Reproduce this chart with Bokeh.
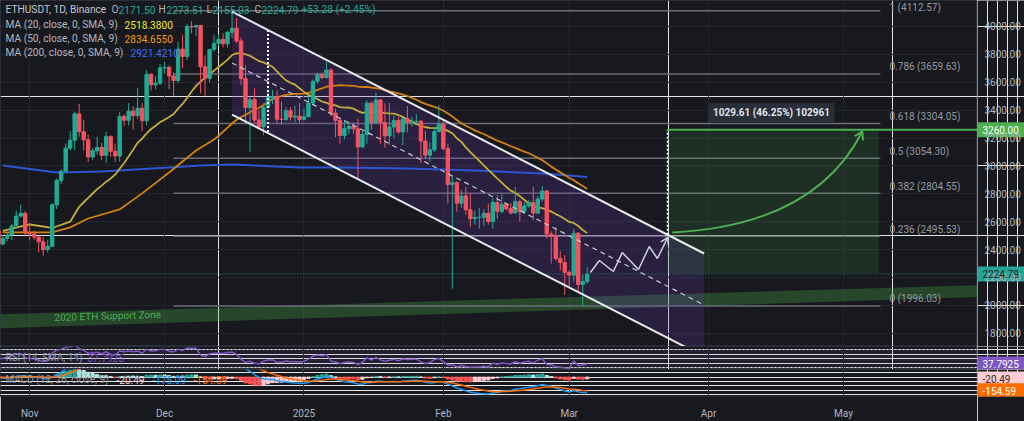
import numpy as np
import pandas as pd
from bokeh.plotting import figure
from bokeh.layouts import column, row
from bokeh.models import (Range1d, FixedTicker, Grid, ColumnDataSource, BoxAnnotation, Span, Label)
from bokeh.embed import file_html
from bokeh.resources import INLINE
from bokeh.core.properties import value

# ---------------- data (ETHUSDT daily) ----------------
START = "2024-10-24"
first_open = 2525.0
closes = [2535, 2440, 2480, 2505, 2570, 2640, 2660, 2518,
          2512, 2490, 2456, 2400, 2423, 2721, 2896, 2962, 3127, 3184, 3373, 3245, 3187, 3064, 3108, 3133, 3076,
          3210, 3105, 3071, 3355, 3328, 3393, 3361, 3413, 3324, 3657, 3581, 3593, 3703,
          3707, 3645, 3613, 3837, 3785, 4000, 3996, 4007, 3711, 3627, 3835, 3879, 3906, 3876, 3958, 3987, 3896,
          3626, 3418, 3475, 3329, 3281, 3420, 3491, 3497, 3335, 3333, 3396, 3350, 3357, 3332,
          3353, 3451, 3607, 3657, 3634, 3687, 3379, 3327, 3218, 3267, 3283, 3266, 3136, 3226, 3450, 3308, 3473,
          3312, 3215, 3279, 3325, 3244, 3338, 3310, 3318, 3320, 3178, 3077, 3116, 3247, 3299,
          3125, 2867, 2880, 2733, 2785, 2686, 2621, 2631, 2631, 2660, 2601, 2738, 2674, 2725, 2693, 2663, 2744,
          2672, 2714, 2738, 2662, 2763, 2820, 2512, 2496, 2336, 2307, 2237,
          2217, 2517, 2150, 2171.50, 2224.79]
highs = [2560, 2565, 2505, 2520, 2585, 2680, 2722, 2675,
         2590, 2535, 2495, 2490, 2470, 2730, 2910, 2975, 3160, 3250, 3390, 3445, 3330, 3225, 3130, 3210, 3165,
         3245, 3220, 3160, 3385, 3370, 3450, 3430, 3560, 3450, 3688, 3665, 3645, 3730,
         3745, 3720, 3670, 3890, 3940, 4017, 4040, 4010, 4010, 3790, 3840, 3940, 3945, 3950, 3970, 4107, 4060,
         3920, 3720, 3495, 3555, 3400, 3450, 3540, 3545, 3540, 3460, 3420, 3420, 3430, 3450,
         3410, 3500, 3620, 3670, 3670, 3745, 3700, 3410, 3350, 3320, 3320, 3310, 3340, 3250, 3470, 3460, 3525,
         3480, 3450, 3450, 3360, 3350, 3345, 3430, 3350, 3370, 3330, 3250, 3170, 3280, 3435,
         3330, 3160, 2925, 2890, 2830, 2850, 2800, 2680, 2700, 2690, 2730, 2770, 2790, 2795, 2730, 2735, 2850,
         2760, 2740, 2755, 2850, 2785, 2855, 2830, 2530, 2560, 2390, 2360,
         2250, 2550, 2525, 2220, 2273.51]
lows = [2500, 2380, 2430, 2460, 2470, 2560, 2630, 2500,
        2465, 2470, 2380, 2357, 2380, 2420, 2690, 2870, 2950, 3110, 3115, 3210, 3110, 3030, 3045, 3080, 3040,
        3020, 3065, 3030, 3030, 3285, 3290, 3260, 3335, 3250, 3290, 3540, 3550, 3580,
        3660, 3550, 3500, 3595, 3700, 3760, 3950, 3930, 3520, 3500, 3600, 3820, 3860, 3850, 3850, 3915, 3880,
        3580, 3300, 3100, 3310, 3265, 3220, 3405, 3445, 3300, 3295, 3320, 3325, 3310, 3310,
        3325, 3350, 3440, 3590, 3620, 3625, 3355, 3206, 3160, 3190, 3230, 3230, 2910, 3130, 3160, 3260, 3300,
        3160, 3130, 3150, 3200, 3230, 3150, 3240, 3280, 3300, 3020, 3050, 3030, 3100, 3240,
        3110, 2730, 2120, 2670, 2700, 2650, 2560, 2580, 2550, 2570, 2580, 2550, 2620, 2660, 2680, 2650, 2660,
        2600, 2655, 2700, 2610, 2655, 2745, 2480, 2300, 2320, 2250, 2075,
        2140, 2170, 2100, 1994, 2155.03]

# moving averages: early parts (before enough history in view)
ma20_early_day = [2, 8, 13, 17]
ma20_early_val = [2535, 2580, 2555, 2600]
ma50_early_day = [2, 13, 17, 21, 28, 33, 39, 45]
ma50_early_val = [2523, 2523, 2559, 2623, 2688, 2803, 2953, 3110]
ma200_day = [2, 14, 24, 39, 46, 53, 68, 77, 92, 107, 122, 132]
ma200_val = [3003, 2953, 2960, 2989, 3003, 3011, 2989, 2989, 2982, 2967, 2946, 2921]

# RSI warm-up averages (estimated)
rsi_seed_gain, rsi_seed_loss = 30.0, 25.0

# drawings
fib_ratio = ["1", "0.786", "0.618", "0.5", "0.382", "0.236", "0"]
fib_price = [4112.57, 3659.63, 3304.05, 3054.30, 2804.55, 2495.53, 1996.03]
fib_day = [40, 197.2]
channel_day = [53, 158]
channel_upper = [4107, 2372]
channel_lower = [3368, 1633]
channel_mid = [3737.5, 2002.5]
channel_marker_day = 61
target_price = 3260.0
range_low = 2230.39
range_day = [149.85, 196.8]
curve_start = (150.9, 2523)
curve_ctrl = (182.5, 2573)
curve_end = (193.2, 3247)
zigzag_day = [132.7, 134.7, 137.8, 139.8, 143.4, 145.8, 147.6, 149.9]
zigzag_price = [2236, 2322, 2243, 2379, 2257, 2422, 2336, 2487]
support_day = [0, 230]
support_top = [1935, 2156]
support_bot = [1835, 2071]

month_starts = ["2024-11-01", "2024-12-01", "2025-01-01", "2025-02-01", "2025-03-01", "2025-04-01", "2025-05-01"]
month_labels = ["Nov", "Dec", "2025", "Feb", "Mar", "Apr", "May"]
price_ticks = [1800, 2000, 2200, 2400, 2600, 2800, 3000, 3200, 3400, 3600, 3800, 4000]

# ---------------- derived ----------------
base = pd.Timestamp(START)
ticks = [(pd.Timestamp(m) - base).days for m in month_starts]
n = len(closes)
days = np.arange(n)
c = np.array(closes, dtype=float)
opens = np.concatenate([[first_open], c[:-1]])
UP, DN = "#22ab94", "#f7525f"
colors = [UP if cl >= op else DN for op, cl in zip(opens, c)]

def sma(arr, w):
    out = np.full(len(arr), np.nan)
    for i in range(w - 1, len(arr)):
        out[i] = arr[i - w + 1:i + 1].mean()
    return out

s20 = sma(c, 20)
s50 = sma(c, 50)
ma20_d = list(ma20_early_day) + list(days[19:])
ma20_v = list(ma20_early_val) + list(s20[19:])
ma50_d = list(ma50_early_day) + list(days[49:])
ma50_v = list(ma50_early_val) + list(s50[49:])

ag, al = rsi_seed_gain, rsi_seed_loss
rsi = [np.nan]
for i in range(1, n):
    d = c[i] - c[i - 1]
    ag = (ag * 13 + max(d, 0)) / 14
    al = (al * 13 + max(-d, 0)) / 14
    rsi.append(100 - 100 / (1 + ag / al))

def ema(arr, span):
    a = 2 / (span + 1)
    out = np.zeros(len(arr))
    out[0] = arr[0]
    for i in range(1, len(arr)):
        out[i] = a * arr[i] + (1 - a) * out[i - 1]
    return out

macd = ema(c, 12) - ema(c, 26)
signal = ema(macd, 9)
hist = macd - signal
hcol = []
for i, h in enumerate(hist):
    prev = hist[i - 1] if i > 0 else 0
    if h >= 0:
        hcol.append("#26a69a" if h > prev else "#b2dfdb")
    else:
        hcol.append("#ff5252" if h < prev else "#ffcdd2")

# ---------------- helpers ----------------
BG = "#18191e"
GRID = "#24262c"
SEP = "#2a2e39"
TXT = "#b2b5be"
FONT = "Roboto"
D0, PXD = 1.5, 4.496
PTOP, PPY = 4186.0, 7.17
FW, SW = 977, 47

def X(px):
    return D0 + px / PXD

def Y(py):
    return PTOP - py * PPY

xr = Range1d(X(0), X(FW))

def make_fig(h, yr, bottom=0):
    f = figure(width=FW, height=h, x_range=xr, y_range=yr, output_backend="svg",
               toolbar_location=None, x_axis_location="below" if bottom else None,
               y_axis_location=None, min_border_left=0, min_border_right=0,
               min_border_top=0, min_border_bottom=bottom,
               background_fill_color=BG, border_fill_color=BG, outline_line_color=SEP)
    f.add_layout(Grid(dimension=0, ticker=FixedTicker(ticks=ticks), grid_line_color=GRID))
    return f

def make_scale(h, yr, bottom=0):
    s = figure(width=SW, height=h, x_range=Range1d(0, SW), y_range=yr, output_backend="svg",
               toolbar_location=None, x_axis_location=None, y_axis_location=None,
               min_border_left=0, min_border_right=0, min_border_top=0, min_border_bottom=bottom,
               background_fill_color=BG, border_fill_color=BG, outline_line_color=None)
    return s

def lab(f, x, y, text, color=TXT, size="10px", align="left", bold=False, bg=None, angle=0.0):
    kw = dict(x=x, y=y, text=text, text_color=color, text_font=FONT, text_font_size=size,
              text_align=align, text_baseline="middle", angle=angle,
              text_font_style="bold" if bold else "normal")
    if bg is not None:
        kw.update(background_fill_color=bg)
    f.add_layout(Label(**kw))

def tag(s, y, text, bg, fg):
    s.rect(x=[SW / 2], y=[y], width=[SW], height=[15], height_units="screen",
           fill_color=bg, line_color=None)
    lab(s, 5, y, text, color=fg)

# ---------------- main price pane ----------------
p = make_fig(346, Range1d(Y(346), Y(0)))
p.add_layout(Grid(dimension=1, ticker=FixedTicker(ticks=price_ticks), grid_line_color=GRID))

p.patch([support_day[0], support_day[1], support_day[1], support_day[0]],
        [support_top[0], support_top[1], support_bot[1], support_bot[0]],
        fill_color="#4caf50", fill_alpha=0.3, line_color=None)

p.segment(x0=[fib_day[0]] * len(fib_price), x1=[fib_day[1]] * len(fib_price),
          y0=fib_price, y1=fib_price, line_color="#6a6d78", line_width=1.5)

p.patch([channel_day[0], channel_day[1], channel_day[1], channel_day[0]],
        [channel_upper[0], channel_upper[1], channel_lower[1], channel_lower[0]],
        fill_color="#673ab7", fill_alpha=0.22, line_color=None)

p.quad(left=range_day[0], right=range_day[1], bottom=range_low, top=target_price,
       fill_color="#4caf50", fill_alpha=0.15, line_color=None)

p.line([X(0), X(FW)], [closes[-1], closes[-1]], line_color="#22ab94", line_dash="1 2",
       line_width=1, line_alpha=0.8)

p.line(ma200_day, ma200_val, line_color="#2f55d4", line_width=2)
p.line(ma50_d, ma50_v, line_color="#d3820f", line_width=1.8)
p.line(ma20_d, ma20_v, line_color="#c2ae3a", line_width=1.8)

src = ColumnDataSource(dict(day=days, open=opens, close=c, high=highs, low=lows, color=colors))
p.segment("day", "high", "day", "low", color="color", line_width=1, source=src)
p.vbar("day", 0.75, "open", "close", fill_color="color", line_color="color", source=src)

slope = (channel_upper[1] - channel_upper[0]) / (channel_day[1] - channel_day[0])
p.line(channel_day, channel_upper, line_color="#e6e8ee", line_width=2)
p.line(channel_day, channel_lower, line_color="#e6e8ee", line_width=2)
p.line(channel_day, channel_mid, line_color="#c8cad2", line_width=1.2, line_dash="5 4")
mk_u = channel_upper[0] + slope * (channel_marker_day - channel_day[0])
mk_l = channel_lower[0] + slope * (channel_marker_day - channel_day[0])
p.line([channel_marker_day, channel_marker_day], [mk_u, mk_l], line_color="#ffffff",
       line_width=2, line_dash="2 2")

rs_u = channel_upper[0] + slope * (range_day[0] - channel_day[0])
p.line([range_day[0], range_day[0]], [rs_u, target_price], line_color="#ffffff",
       line_width=1.5, line_dash="2 2")
p.line([range_day[0], X(FW)], [target_price, target_price], line_color="#4caf50", line_width=2)

p.quadratic(x0=[curve_start[0]], y0=[curve_start[1]], x1=[curve_end[0]], y1=[curve_end[1]],
            cx=[curve_ctrl[0]], cy=[curve_ctrl[1]], line_color="#4caf50", line_width=2)

def head(f, xe, ye, xs, ys, color, lw, size_px=9):
    dx = (xe - xs) * PXD
    dy = (ye - ys) / PPY
    L = (dx * dx + dy * dy) ** 0.5
    ux, uy = dx / L, dy / L
    pts = []
    for ang in (2.6, -2.6):
        ca, sa = np.cos(ang), np.sin(ang)
        vx, vy = ux * ca - uy * sa, ux * sa + uy * ca
        pts.append((xe + vx * size_px / PXD, ye + vy * size_px * PPY))
    f.line([pts[0][0], xe, pts[1][0]], [pts[0][1], ye, pts[1][1]], line_color=color, line_width=lw)

head(p, curve_end[0], curve_end[1], curve_ctrl[0], curve_ctrl[1], "#4caf50", 2)

p.line(zigzag_day, zigzag_price, line_color="#d1d4dc", line_width=1.5)
head(p, zigzag_day[-1], zigzag_price[-1], zigzag_day[-2], zigzag_price[-2], "#d1d4dc", 1.5, 8)

for r, fp in zip(fib_ratio, fib_price):
    lab(p, X(889), min(fp + 7 * PPY, Y(7)), f"{r} ({fp:.2f})", color="#9598a1")

lab(p, X(54), Y(317), "2020 ETH Support Zone", color="#4caf50", angle=0.03)

p.rect(x=[X(771)], y=[Y(112)], width=[126], height=[19], width_units="screen",
       height_units="screen", fill_color="#2a2e39", line_color=None)
lab(p, X(771), Y(112), "1029.61 (46.25%) 102961", color="#e0e3eb", align="center", bold=True)

GREEN_T = "#22ab94"
HS = "10.2px"
lab(p, X(5), Y(9), "ETHUSDT, 1D, Binance", color="#c3c6ce", size=HS)
for px, t, col in [(111, "O", TXT), (118, "2171.50", GREEN_T), (158, "H", TXT), (166, "2273.51", GREEN_T),
                   (206, "L", TXT), (212, "2155.03", GREEN_T), (254, "C", TXT), (261, "2224.79", GREEN_T),
                   (301, "+53.28 (+2.45%)", GREEN_T)]:
    lab(p, X(px), Y(9), t, color=col, size=HS)
lab(p, X(5), Y(24), "MA (20, close, 0, SMA, 9)", size=HS)
lab(p, X(124), Y(24), "2518.3800", color="#f2e13c", size=HS)
lab(p, X(5), Y(38), "MA (50, close, 0, SMA, 9)", size=HS)
lab(p, X(124), Y(38), "2834.6550", color="#f39a12", size=HS)
lab(p, X(5), Y(52), "MA (200, close, 0, SMA, 9)", size=HS)
lab(p, X(130), Y(52), "2921.4210", color="#3d6df5", size=HS)

ps = make_scale(346, p.y_range)
for t in price_ticks:
    lab(ps, 7, t, f"{t:.2f}")
tag(ps, target_price, "3260.00", "#4caf50", "#ffffff")
tag(ps, closes[-1], "2224.79", "#26a69a", "#0f1a17")

# ---------------- RSI pane ----------------
RT, RPX = 76.67, 0.45
def RY(py):
    return RT - (py - 346) / RPX

ryr = Range1d(RY(369), RY(346))
pr = make_fig(23, ryr)
pr.add_layout(BoxAnnotation(bottom=30, top=70, fill_color="#7e57c2", fill_alpha=0.1, line_color=None))
pr.add_layout(Span(location=70, dimension="width", line_color="#787b86", line_dash="2 2", line_width=1))
pr.add_layout(Span(location=30, dimension="width", line_color="#787b86", line_dash="2 2", line_width=1))
pr.line(days[1:], rsi[1:], line_color="#7e57c2", line_width=1.5)
lab(pr, X(5), RY(357), "RSI (14, SMA, 14)", color="#9598a1")
lab(pr, X(87), RY(357), "37.7925", color="#7e57c2")
prs = make_scale(23, ryr)
tag(prs, 37.7925, "37.7925", "#7e57c2", "#ffffff")

# ---------------- MACD pane ----------------
MT, MPX = 85.7, 0.105
def MY(py):
    return MT - (py - 369) / MPX

myr = Range1d(MY(401), MY(369))
pm = make_fig(52, myr, bottom=20)
pm.xaxis.ticker = FixedTicker(ticks=ticks)
pm.xaxis.major_label_overrides = {t: l for t, l in zip(ticks, month_labels)}
pm.xaxis.major_label_text_color = TXT
pm.xaxis.major_label_text_font = FONT
pm.xaxis.major_label_text_font_size = "10px"
pm.xaxis.major_tick_line_color = None
pm.xaxis.minor_tick_line_color = None
pm.xaxis.axis_line_color = SEP
pm.xaxis.major_label_standoff = 5
pm.vbar(x=days, width=0.72, top=hist, bottom=0, fill_color=hcol, line_color=hcol)
pm.line(days, macd, line_color="#2196f3", line_width=1.5)
pm.line(days, signal, line_color="#ff6d00", line_width=1.5)
lab(pm, X(5), MY(381), "MACD (12, 26, close, 9)", color="#9598a1")
lab(pm, X(116), MY(381), "-20.49", color="#ffcdd2")
lab(pm, X(152), MY(381), "-175.09", color="#2196f3")
lab(pm, X(193), MY(381), "-154.59", color="#ff6d00")
pms = make_scale(52, myr, bottom=20)
tag(pms, -20.49, "-20.49", "#ffcdd2", "#3a1d1d")
tag(pms, -154.59, "-154.59", "#ff6d00", "#ffffff")

layout = column(row(p, ps, spacing=0), row(pr, prs, spacing=0), row(pm, pms, spacing=0), spacing=0)
open("out.html", "w").write(file_html(layout, INLINE))
